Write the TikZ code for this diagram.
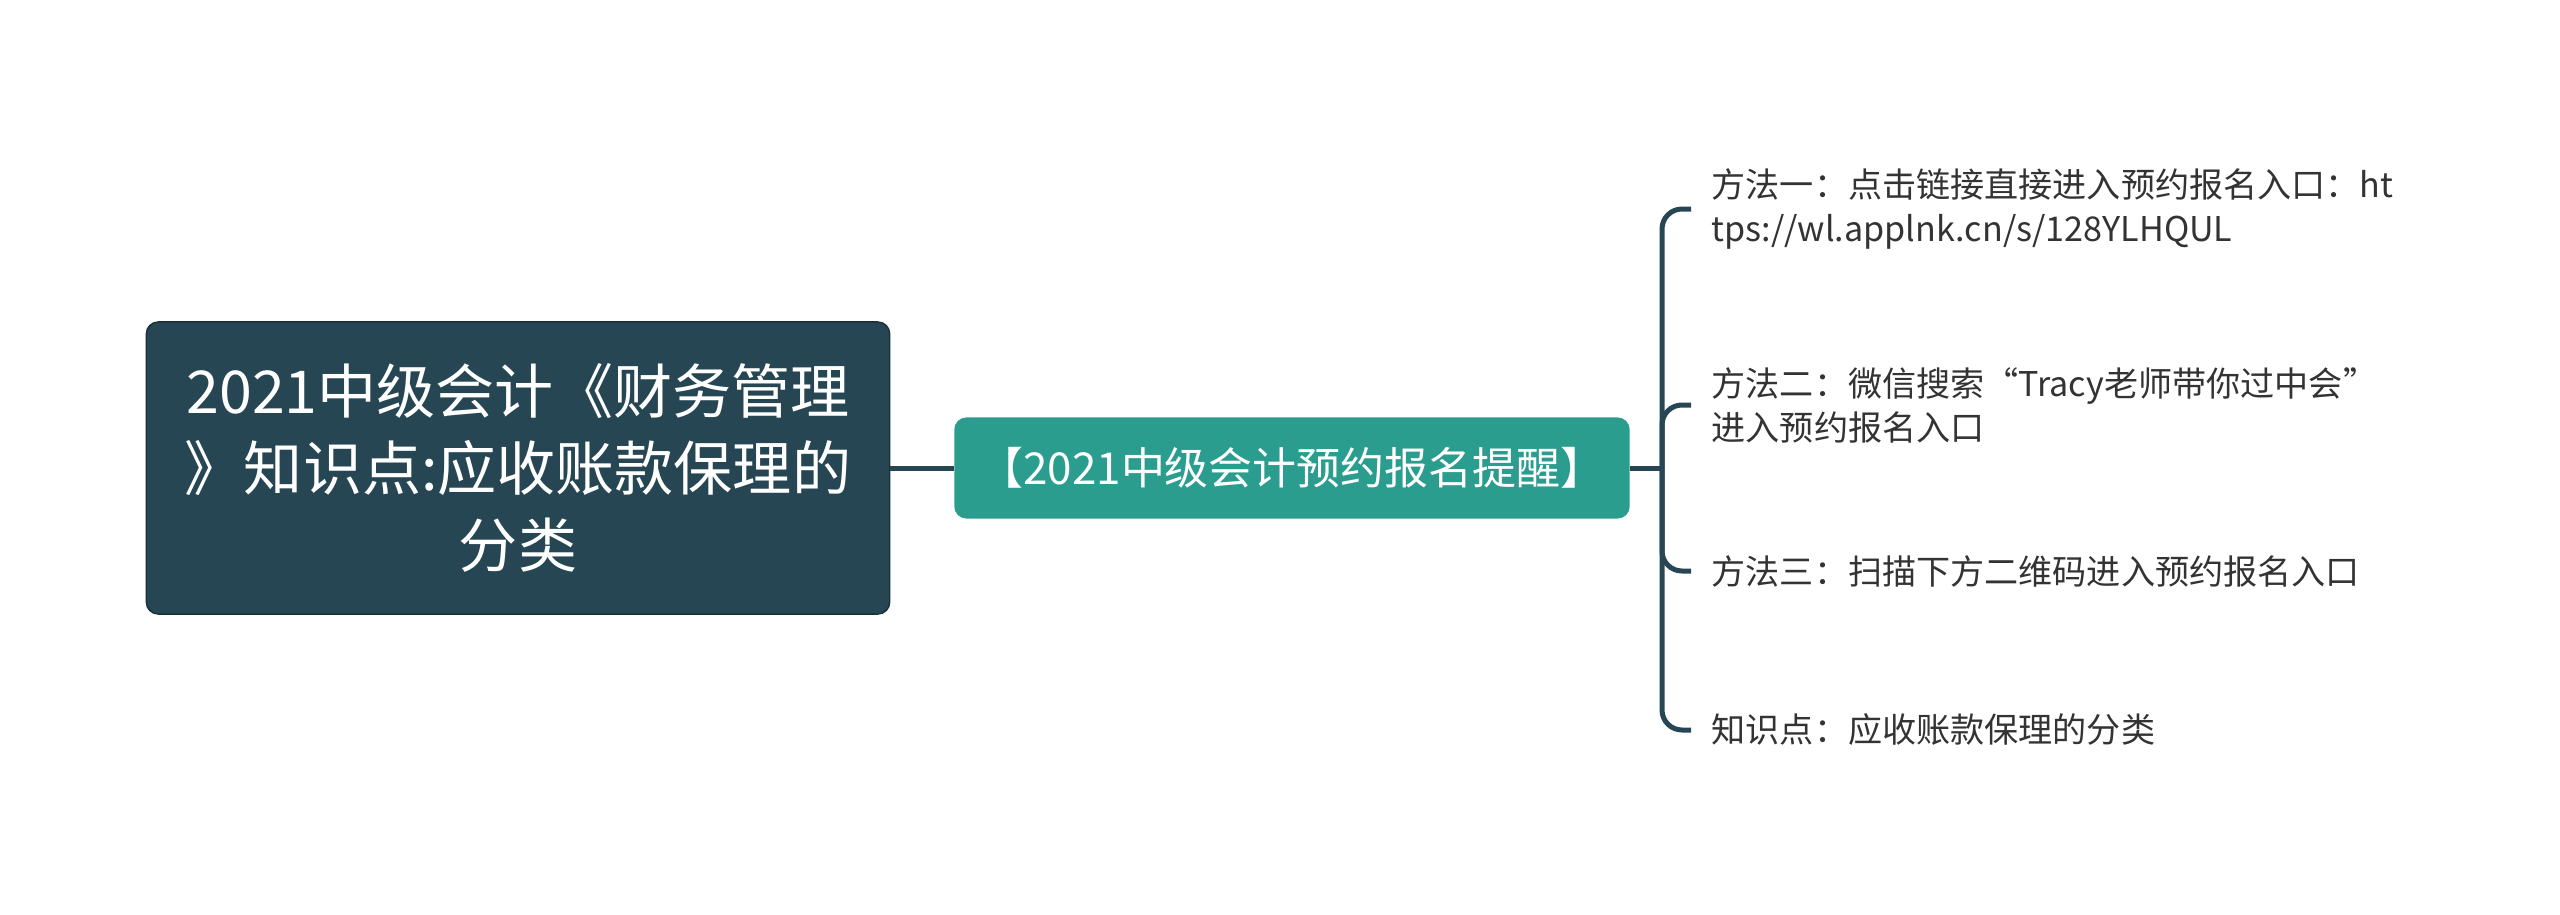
\documentclass[tikz,border=0pt]{standalone}
\usepackage{fontspec}
\setmainfont{Noto Sans CJK SC}
\usetikzlibrary{positioning}
\definecolor{MindDark}{HTML}{264653}
\definecolor{MindTeal}{HTML}{2A9D8F}
\definecolor{MindText}{HTML}{333333}
\tikzset{
  rootbox/.style={draw=MindDark!70!black,fill=MindDark,rounded corners=0.12cm,text=white,minimum width=7.43cm,minimum height=2.92cm,align=center,font=\fontsize{16.8}{22}\selectfont},
  midbox/.style={fill=MindTeal,rounded corners=0.12cm,text=white,minimum width=6.75cm,minimum height=1.01cm,font=\fontsize{12.5}{15}\selectfont},
  leaf/.style={anchor=west,align=left,inner xsep=0.2cm,text=MindText,font=\fontsize{9.7}{12.5}\selectfont},
  link/.style={MindDark,line width=0.05cm,rounded corners=0.2cm}
}
\begin{document}
\begin{tikzpicture}[x=0.01cm,y=-0.01cm]
\useasboundingbox (0,0) rectangle (2560,915);
\node[rootbox] (root) at (518,468) {2021中级会计《财务管理\\》知识点:应收账款保理的\\分类};
\node[midbox] (mid) at (1292,468) {【2021中级会计预约报名提醒】};
\coordinate (trunk) at (1662,468);
% leaves
\node[leaf] (l1) at (1691,209) {方法一：点击链接直接进入预约报名入口：ht\\tps://wl.applnk.cn/s/128YLHQUL};
\node[leaf] (l2) at (1691,405) {方法二：微信搜索“Tracy老师带你过中会”\\进入预约报名入口};
\node[leaf] (l3) at (1691,571) {方法三：扫描下方二维码进入预约报名入口};
\node[leaf] (l4) at (1691,730) {知识点：应收账款保理的分类};
\draw[link] (root.east)--(mid.west);
\draw[link] (mid.east)--(trunk);
\foreach \n in {l1,l2,l3,l4}{\draw[link] (trunk) |- (\n.west);}
\end{tikzpicture}
\end{document}
